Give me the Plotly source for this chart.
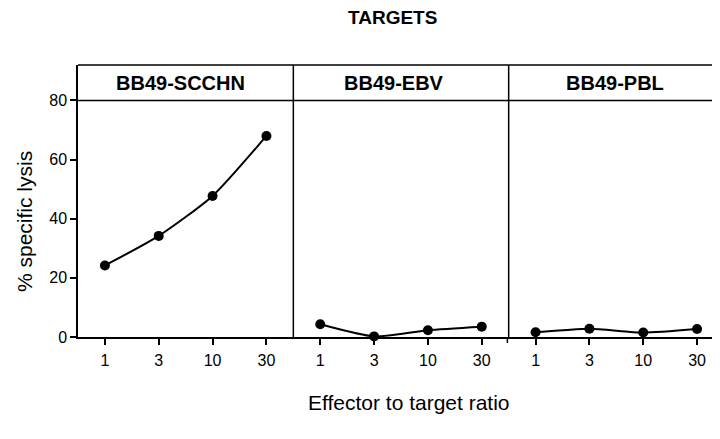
import plotly.graph_objects as go

ratios = ["1", "3", "10", "30"]
panels = ["BB49-SCCHN", "BB49-EBV", "BB49-PBL"]
lysis_scchn = [24.2, 34.2, 47.7, 68.0]
lysis_ebv = [4.3, 0.2, 2.3, 3.5]
lysis_pbl = [1.6, 2.8, 1.5, 2.7]
y_ticks = [0, 20, 40, 60, 80]
series = [lysis_scchn, lysis_ebv, lysis_pbl]

FONT = "Liberation Sans, Arial, Helvetica, sans-serif"
fig = go.Figure()
axes = ["x", "x2", "x3"]
for i, vals in enumerate(series):
    fig.add_trace(go.Scatter(
        x=ratios, y=vals, xaxis=axes[i], yaxis="y",
        mode="lines+markers",
        line=dict(color="black", width=2, shape="spline", smoothing=0.6),
        marker=dict(color="black", size=10),
        showlegend=False, cliponaxis=False,
    ))

TOP, AXIS = 57, 329
H = 439
PLOT_H = AXIS - TOP
YMAX = 92.0

doms = [[0, 1/3], [1/3, 2/3], [2/3, 1]]
xcommon = dict(
    type="category", range=[-0.5, 3.5], showgrid=False, zeroline=False,
    showline=True, linecolor="black", linewidth=1.5,
    ticks="outside", ticklen=6, tickwidth=1.5, tickcolor="black",
    tickfont=dict(family=FONT, size=16, color="black"),
    ticklabelstandoff=2, fixedrange=True,
)
layout = dict(
    width=720, height=H,
    margin=dict(l=70, r=4, t=TOP, b=H - AXIS),
    paper_bgcolor="white", plot_bgcolor="white",
    font=dict(family=FONT, color="black"),
    yaxis=dict(
        range=[0, YMAX], tickvals=y_ticks, showgrid=False, zeroline=False,
        showline=True, linecolor="black", linewidth=1.5,
        ticks="outside", ticklen=6, tickwidth=1.5, tickcolor="black",
        tickfont=dict(family=FONT, size=16, color="black"),
        anchor="x", fixedrange=True,
    ),
)
for i, ax in enumerate(["xaxis", "xaxis2", "xaxis3"]):
    layout[ax] = dict(xcommon, domain=doms[i], anchor="y")
fig.update_layout(**layout)

shapes = []
shapes.append(dict(type="line", xref="paper", yref="paper", x0=0, x1=1, y0=1, y1=1,
                   line=dict(color="black", width=1.5)))
shapes.append(dict(type="line", xref="paper", yref="y", x0=0, x1=1, y0=80, y1=80,
                   line=dict(color="black", width=1.5)))
for xp in [1/3, 2/3, 1]:
    shapes.append(dict(type="line", xref="paper", yref="paper", x0=xp, x1=xp, y0=0, y1=1,
                       line=dict(color="black", width=1.5)))
shapes.append(dict(type="line", xref="paper", yref="paper", x0=2/3 - 0.002, x1=2/3 - 0.002,
                   y0=0, y1=-6 / PLOT_H, line=dict(color="black", width=1.5)))
fig.update_layout(shapes=shapes)

W = 646.0
def px(x):
    return (x - 70) / W
def py(y):
    return (AXIS - y) / PLOT_H

label_x = [172, 386, 607]
ann = []
for i, name in enumerate(panels):
    ann.append(dict(text=f"<b>{name}</b>", xref="paper", yref="y",
                    x=px(label_x[i]), y=86.0, showarrow=False,
                    font=dict(family=FONT, size=20, color="black"),
                    xanchor="center", yanchor="middle"))
ann.append(dict(text="<b>TARGETS</b>", xref="paper", yref="paper", x=px(384), y=py(10),
                showarrow=False, font=dict(family=FONT, size=19, color="black"),
                xanchor="center", yanchor="middle"))
ann.append(dict(text="Effector to target ratio", xref="paper", yref="paper", x=px(401), y=py(394),
                showarrow=False, font=dict(family=FONT, size=21, color="black"),
                xanchor="center", yanchor="middle"))
ann.append(dict(text="% specific lysis", xref="paper", yref="paper", x=px(16), y=py(214),
                showarrow=False, textangle=-90, font=dict(family=FONT, size=21, color="black"),
                xanchor="center", yanchor="middle"))
fig.update_layout(annotations=ann)

fig.write_html("out.html")
